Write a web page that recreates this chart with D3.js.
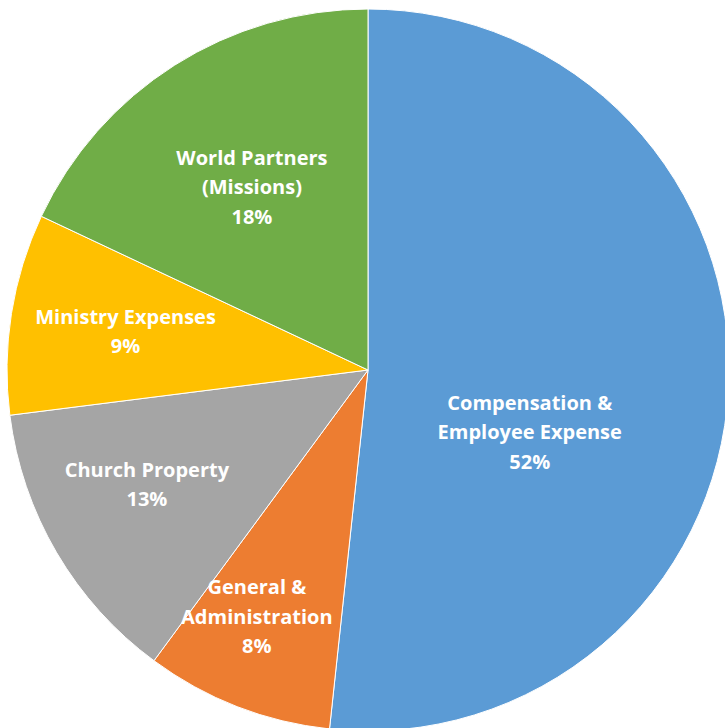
<!DOCTYPE html>
<html>
<head>
<meta charset="utf-8">
<script src="https://cdn.jsdelivr.net/npm/d3@7"></script>
<style>
  html, body { margin: 0; padding: 0; background: #fff; }
  svg text { font-family: "Open Sans", Lato, sans-serif; font-weight: 700; fill: #fff; }
</style>
</head>
<body>
<svg id="chart" width="725" height="728"></svg>
<script>
"use strict";

// slice data, clockwise from 12 o'clock
const categories = [
  ["Compensation &", "Employee Expense"],
  ["General &", "Administration"],
  ["Church Property"],
  ["Ministry Expenses"],
  ["World Partners", "(Missions)"]
];
const values = [51.7, 8.4, 12.9, 9.0, 18.0];
const colors = ["#5B9BD5", "#ED7D31", "#A5A5A5", "#FFC000", "#70AD47"];

(function () {
  let width = 725, height = 728;
  let cx = 368, cy = 370, radius = 361;

  // label placement tweaks (radius fraction, angle shift in degrees)
  let labelLayout = [[0.48, 18], [0.75, 3], [0.69, 3], [0.68, 0], [0.6, 0]];

  let svg = d3.select('#chart');
  let g = svg.append('g').attr('transform', 'translate(' + cx + ',' + cy + ')');

  let data = values.map(function (v, i) {
    return { name: categories[i], value: v, color: colors[i], idx: i };
  });

  let pie = d3.pie().sort(null).value(function (d) { return d.value; });
  let arc = d3.arc().innerRadius(0).outerRadius(radius);
  let arcs = pie(data);
  let total = d3.sum(values);

  g.selectAll('path.slice')
    .data(arcs)
    .enter()
    .append('path')
    .attr('class', 'slice')
    .attr('d', arc)
    .style('fill', function (d) { return d.data.color; })
    .style('stroke', '#fff')
    .style('stroke-width', 1);

  let lineH = 29.5;
  let labels = g.selectAll('text.label')
    .data(arcs)
    .enter()
    .append('text')
    .attr('class', 'label')
    .attr('text-anchor', 'middle')
    .style('font-size', '20px')
    .attr('transform', function (d) {
      let lay = labelLayout[d.data.idx];
      let a = (d.startAngle + d.endAngle) / 2 + lay[1] * Math.PI / 180;
      let r = radius * lay[0];
      return 'translate(' + (Math.sin(a) * r) + ',' + (-Math.cos(a) * r) + ')';
    });

  labels.each(function (d) {
    let lines = d.data.name.concat([Math.round(d.data.value / total * 100) + '%']);
    let t = d3.select(this);
    let top = -(lines.length - 1) * lineH / 2;
    lines.forEach(function (l, i) {
      t.append('tspan')
        .attr('x', 0)
        .attr('y', top + i * lineH)
        .attr('dy', '0.35em')
        .text(l);
    });
  });
})();
</script>
</body>
</html>
